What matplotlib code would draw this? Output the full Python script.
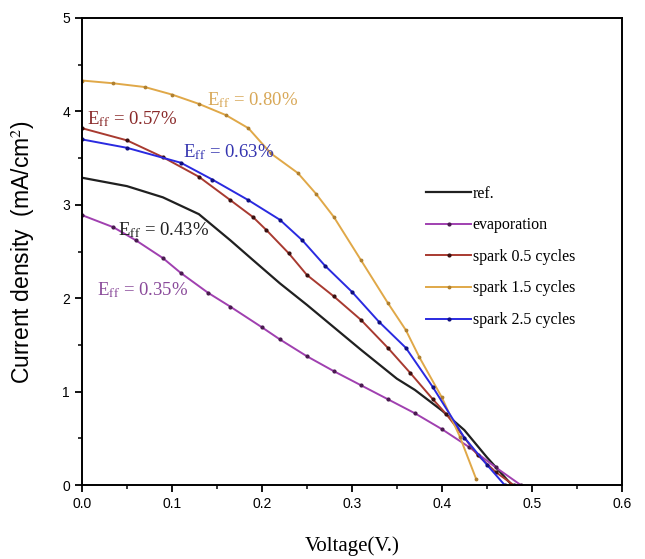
import numpy as np
import matplotlib
matplotlib.use("Agg")
import matplotlib.pyplot as plt
from matplotlib.ticker import MultipleLocator

# J-V curves
v_ref = [0, 0.05, 0.09, 0.13, 0.165, 0.19, 0.22, 0.25, 0.28, 0.31, 0.35, 0.37, 0.40, 0.425, 0.45, 0.478]
j_ref = [3.29, 3.20, 3.08, 2.90, 2.62, 2.41, 2.16, 1.93, 1.69, 1.45, 1.14, 1.02, 0.80, 0.59, 0.30, 0.0]

v_evap = [0, 0.035, 0.06, 0.09, 0.11, 0.14, 0.165, 0.2, 0.22, 0.25, 0.28, 0.31, 0.34,
          0.37, 0.40, 0.43, 0.46, 0.488]
j_evap = [2.89, 2.76, 2.62, 2.43, 2.27, 2.06, 1.91, 1.69, 1.56, 1.38, 1.22, 1.07, 0.92,
          0.77, 0.60, 0.41, 0.19, 0.0]

v_sp05 = [0, 0.05, 0.09, 0.13, 0.165, 0.19, 0.205, 0.23, 0.25, 0.28, 0.31, 0.34, 0.365,
          0.39, 0.405, 0.44, 0.46, 0.48]
j_sp05 = [3.82, 3.69, 3.51, 3.30, 3.05, 2.87, 2.73, 2.48, 2.25, 2.02, 1.77, 1.47, 1.20,
          0.92, 0.76, 0.32, 0.14, 0.0]

v_sp15 = [0, 0.035, 0.07, 0.1, 0.13, 0.16, 0.185, 0.21, 0.24, 0.26, 0.28, 0.31, 0.34,
          0.36, 0.375, 0.40, 0.42, 0.438]
j_sp15 = [4.33, 4.30, 4.26, 4.18, 4.08, 3.96, 3.82, 3.55, 3.34, 3.12, 2.87, 2.41, 1.95,
          1.66, 1.37, 0.94, 0.52, 0.07]

v_sp25 = [0, 0.05, 0.11, 0.145, 0.185, 0.22, 0.245, 0.27, 0.3, 0.33, 0.36, 0.39, 0.425,
          0.45, 0.47]
j_sp25 = [3.70, 3.61, 3.45, 3.27, 3.05, 2.84, 2.62, 2.35, 2.07, 1.75, 1.47, 1.05, 0.51,
          0.22, 0.0]

labels = ['ref.', 'evaporation', 'spark 0.5 cycles', 'spark 1.5 cycles', 'spark 2.5 cycles']
eff_text = ['0.43%', '0.35%', '0.57%', '0.80%', '0.63%']

plt.rcParams['font.family'] = ['Liberation Serif', 'DejaVu Serif']
plt.rcParams['mathtext.fontset'] = 'stix'

fig = plt.figure(figsize=(6.45, 5.59), dpi=100)
ax = fig.add_axes([0.127, 0.132, 0.837, 0.836])

ax.plot(v_ref, j_ref, color='#202020', lw=1.6, label=labels[0])
ax.plot(v_evap, j_evap, color='#a040b0', lw=1.4, marker='.', ms=4, mfc='#4a1a50',
        mec='#4a1a50', label=labels[1])
ax.plot(v_sp05, j_sp05, color='#a83a30', lw=1.4, marker='.', ms=4, mfc='#3a1010',
        mec='#3a1010', label=labels[2])
ax.plot(v_sp15, j_sp15, color='#e0a848', lw=1.4, marker='.', ms=3.5, mfc='#b08030',
        mec='#b08030', label=labels[3])
ax.plot(v_sp25, j_sp25, color='#2a2ae0', lw=1.4, marker='.', ms=4, mfc='#101080',
        mec='#101080', label=labels[4])

# efficiency labels
sub = r'E$_{\mathrm{ff}}$ = '
ax.text(0.040, 2.73, sub + eff_text[0], color='#202020', fontsize=13.5, va='center')
ax.text(0.017, 2.09, sub + eff_text[1], color='#8a4a9a', fontsize=13.5, va='center')
ax.text(0.006, 3.92, sub + eff_text[2], color='#8a2a2a', fontsize=13.5, va='center')
ax.text(0.139, 4.12, sub + eff_text[3], color='#d8a858', fontsize=13.5, va='center')
ax.text(0.112, 3.56, sub + eff_text[4], color='#3535b0', fontsize=13.5, va='center')

ax.set_xlim(0, 0.6)
ax.set_ylim(0, 5)
ax.xaxis.set_minor_locator(MultipleLocator(0.05))
ax.yaxis.set_minor_locator(MultipleLocator(0.5))
ax.set_xticks(np.arange(0, 0.61, 0.1))
ax.set_xticklabels(['%.1f' % t for t in np.arange(0, 0.61, 0.1)])
ax.set_yticks(range(6))
ax.set_yticklabels([str(t) for t in range(6)])
for lab in ax.get_xticklabels() + ax.get_yticklabels():
    lab.set_family(['Liberation Sans', 'DejaVu Sans'])
    lab.set_fontsize(10)
ax.tick_params(which='major', direction='out', length=5, width=1.3)
ax.tick_params(which='minor', direction='out', length=3, width=1.1)
for s in ax.spines.values():
    s.set_linewidth(1.4)

ax.set_xlabel('Voltage(V.)', fontsize=15, labelpad=18)
ax.set_ylabel(r'Current density  (mA/cm$^2$)', fontsize=16.5,
              family=['Liberation Sans', 'DejaVu Sans'])
ax.yaxis.set_label_coords(-0.083, 0.5)

ax.legend(loc='upper left', bbox_to_anchor=(0.626, 0.655), frameon=False, fontsize=11.5,
          handlelength=2.8, handletextpad=0.1, labelspacing=0.98, borderaxespad=0)

fig.savefig('out.png', dpi=100)
